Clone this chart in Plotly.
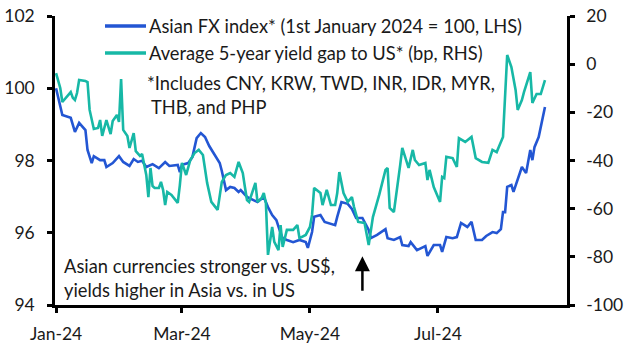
import plotly.graph_objects as go

# ---------------- data ----------------
fx_dates = ["2024-01-01","2024-01-03","2024-01-04","2024-01-08","2024-01-10","2024-01-12","2024-01-15","2024-01-16","2024-01-18","2024-01-19",
            "2024-01-22","2024-01-24","2024-01-25","2024-01-28","2024-01-30","2024-01-31","2024-02-02","2024-02-05","2024-02-07","2024-02-09",
            "2024-02-11","2024-02-13","2024-02-16","2024-02-19","2024-02-22","2024-02-24","2024-02-28","2024-02-29","2024-03-01","2024-03-04",
            "2024-03-06","2024-03-08","2024-03-10","2024-03-12","2024-03-14","2024-03-17","2024-03-19","2024-03-20","2024-03-22","2024-03-24",
            "2024-03-26","2024-03-28","2024-03-29","2024-04-01","2024-04-04","2024-04-06","2024-04-09","2024-04-11","2024-04-13","2024-04-15",
            "2024-04-17","2024-04-18","2024-04-20","2024-04-23","2024-04-26","2024-04-29","2024-04-30","2024-05-02","2024-05-03","2024-05-06",
            "2024-05-08","2024-05-10","2024-05-13","2024-05-14","2024-05-16","2024-05-19","2024-05-21","2024-05-23","2024-05-26","2024-05-29",
            "2024-05-30","2024-06-02","2024-06-04","2024-06-06","2024-06-07","2024-06-10","2024-06-13","2024-06-14","2024-06-17","2024-06-18",
            "2024-06-21","2024-06-25","2024-06-26","2024-06-29","2024-07-02","2024-07-03","2024-07-05","2024-07-08","2024-07-10","2024-07-12",
            "2024-07-15","2024-07-17","2024-07-19","2024-07-22","2024-07-24","2024-07-27","2024-07-29","2024-07-31","2024-08-01","2024-08-02",
            "2024-08-03","2024-08-05","2024-08-06","2024-08-08","2024-08-10","2024-08-12","2024-08-14","2024-08-15","2024-08-16","2024-08-18",
            "2024-08-21"]
fx_index = [100.0, 99.45, 99.26, 99.18, 98.79, 99.04, 98.84, 98.29, 97.93, 98.12,
            98.01, 98.01, 97.82, 97.93, 98.04, 98.12, 97.96, 97.85, 98.04, 97.96,
            97.99, 97.82, 97.9, 97.79, 97.96, 97.85, 97.88, 97.68, 97.88, 97.93,
            98.1, 98.62, 98.76, 98.65, 98.4, 98.1, 97.93, 97.71, 97.18, 97.27,
            97.24, 97.13, 97.18, 96.99, 96.91, 96.85, 96.99, 96.71, 96.49, 96.35,
            95.99, 95.85, 95.8, 95.74, 95.8, 95.74, 95.58, 96.02, 96.44, 96.49,
            96.3, 96.27, 96.21, 96.44, 96.85, 96.8, 96.66, 96.41, 96.41, 96.08,
            95.85, 95.94, 96.02, 96.1, 95.85, 95.8, 95.88, 95.66, 95.63, 95.74,
            95.52, 95.63, 95.36, 95.66, 95.66, 95.47, 95.88, 95.85, 95.88, 96.27,
            96.16, 96.3, 95.8, 95.8, 95.91, 96.02, 95.99, 96.1, 96.57, 96.57,
            97.27, 97.32, 97.13, 97.46, 97.82, 97.65, 98.29, 98.01, 98.37, 98.65,
            99.48]

gap_dates = ["2024-01-01","2024-01-02","2024-01-03","2024-01-04","2024-01-06","2024-01-08","2024-01-09","2024-01-10","2024-01-11","2024-01-12",
             "2024-01-15","2024-01-16","2024-01-17","2024-01-19","2024-01-21","2024-01-22","2024-01-23","2024-01-25","2024-01-27","2024-01-28",
             "2024-01-30","2024-01-31","2024-02-01","2024-02-02","2024-02-04","2024-02-05","2024-02-07","2024-02-08","2024-02-10","2024-02-11",
             "2024-02-13","2024-02-14","2024-02-15","2024-02-16","2024-02-17","2024-02-19","2024-02-20","2024-02-21","2024-02-22","2024-02-23",
             "2024-02-25","2024-02-28","2024-02-29","2024-03-01","2024-03-03","2024-03-05","2024-03-07","2024-03-09","2024-03-11","2024-03-12",
             "2024-03-13","2024-03-15","2024-03-17","2024-03-18","2024-03-20","2024-03-22","2024-03-24","2024-03-26","2024-03-28","2024-03-30",
             "2024-03-31","2024-04-01","2024-04-02","2024-04-05","2024-04-06","2024-04-08","2024-04-09","2024-04-10","2024-04-11","2024-04-13",
             "2024-04-14","2024-04-16","2024-04-17","2024-04-18","2024-04-20","2024-04-23","2024-04-25","2024-04-26","2024-04-29","2024-05-01",
             "2024-05-02","2024-05-03","2024-05-06","2024-05-07","2024-05-09","2024-05-11","2024-05-13","2024-05-14","2024-05-15","2024-05-17",
             "2024-05-19","2024-05-21","2024-05-22","2024-05-24","2024-05-27","2024-05-29","2024-05-31","2024-06-02","2024-06-03","2024-06-06",
             "2024-06-07","2024-06-08","2024-06-10","2024-06-13","2024-06-14","2024-06-17","2024-06-19","2024-06-20","2024-06-22","2024-06-25",
             "2024-06-26","2024-06-27","2024-06-29","2024-07-02","2024-07-03","2024-07-04","2024-07-05","2024-07-08","2024-07-10","2024-07-11",
             "2024-07-14","2024-07-17","2024-07-19","2024-07-22","2024-07-25","2024-07-27","2024-07-29","2024-07-30","2024-08-01","2024-08-03",
             "2024-08-05","2024-08-07","2024-08-08","2024-08-10","2024-08-11","2024-08-14","2024-08-15","2024-08-17","2024-08-19","2024-08-21"]
yield_gap = [-3.7, -6.6, -9.9, -15.7, -13.6, -11.6, -14.0, -14.9, -12.0, -6.6,
             -7.0, -7.4, -19.0, -26.9, -26.5, -23.2, -29.8, -23.2, -29.0, -23.6,
             -21.1, -24.0, -6.2, -27.3, -29.8, -34.8, -28.6, -36.1, -38.1, -37.3,
             -46.0, -55.2, -43.1, -50.6, -51.4, -51.4, -48.9, -52.2, -58.5, -53.1,
             -54.3, -57.6, -50.2, -41.0, -46.0, -39.8, -36.9, -35.6, -37.7, -42.7,
             -49.3, -57.2, -59.3, -60.5, -48.9, -46.0, -45.2, -46.8, -40.6, -45.2,
             -51.0, -56.4, -57.2, -49.3, -57.2, -55.6, -53.5, -57.6, -79.2, -67.6,
             -73.8, -77.2, -66.8, -75.9, -68.8, -68.8, -66.8, -72.2, -70.9, -67.6,
             -62.6, -51.4, -53.5, -58.5, -52.2, -58.5, -58.5, -53.5, -44.8, -53.5,
             -57.2, -55.2, -59.3, -65.5, -65.9, -75.1, -63.5, -57.6, -54.3, -43.9,
             -43.1, -59.7, -61.4, -41.9, -34.8, -43.1, -35.6, -39.8, -41.9, -41.0,
             -48.1, -43.9, -51.0, -57.2, -46.8, -47.3, -38.5, -39.0, -42.7, -30.7,
             -32.3, -30.2, -39.0, -40.6, -41.0, -35.6, -36.5, -34.4, -30.2, 3.8,
             -1.2, -10.7, -19.0, -14.9, -11.6, -3.3, -16.1, -12.4, -12.4, -6.6]

x_tick_vals = ["2024-01-01", "2024-03-01", "2024-05-01", "2024-07-01"]
x_tick_text = ["Jan-24", "Mar-24", "May-24", "Jul-24"]
left_ticks = [94, 96, 98, 100, 102]
left_tick_text = ["94", "96", "98", "100", "102"]
right_ticks = [-100, -80, -60, -40, -20, 0, 20]
right_tick_text = ["-100", "-80", "-60", "-40", "-20", "0", "20"]

series_names = ["Asian FX index* (1st January 2024 = 100, LHS)",
                "Average 5-year yield gap to US* (bp, RHS)"]
note_lines = ["*Includes CNY, KRW, TWD, INR, IDR, MYR,", "THB, and PHP"]
annot_text = "Asian currencies stronger vs. US$,<br>yields higher in Asia vs. in US"
arrow_date = "2024-05-26"

# ---------------- style ----------------
BLUE = "#2356d3"
TEAL = "#17b8a6"
FONT = "Lato"
TXT = "#1a1a1a"
TXT_SIZE = 18.3
TICK_SIZE = 17.5

fig = go.Figure()
fig.add_trace(go.Scatter(x=fx_dates, y=fx_index, mode="lines", name=series_names[0],
                         line=dict(color=BLUE, width=2.6), yaxis="y", showlegend=False,
                         hoverinfo="skip"))
fig.add_trace(go.Scatter(x=gap_dates, y=yield_gap, mode="lines", name=series_names[1],
                         line=dict(color=TEAL, width=2.6), yaxis="y2", showlegend=False,
                         hoverinfo="skip"))

axis_common = dict(showgrid=False, zeroline=False, showline=True, linecolor="black",
                   linewidth=2.5, ticks="outside", ticklen=5, tickwidth=2.5, tickcolor="black",
                   ticklabeloverflow="allow", automargin=False,
                   tickfont=dict(family=FONT, size=TICK_SIZE, color=TXT))

fig.update_layout(
    width=628, height=355,
    margin=dict(l=55, r=61, t=16, b=50),
    paper_bgcolor="white", plot_bgcolor="white",
    font=dict(family=FONT, size=TXT_SIZE, color=TXT),
    xaxis=dict(type="date", range=["2023-12-31 12:00", "2024-08-31 12:00"],
               tickmode="array", tickvals=x_tick_vals, ticktext=x_tick_text,
               ticklabelstandoff=6, **axis_common),
    yaxis=dict(range=[94, 102], tickmode="array", tickvals=left_ticks, ticktext=left_tick_text,
               ticklabelstandoff=9, **axis_common),
    yaxis2=dict(range=[-100, 20], tickmode="array", tickvals=right_ticks, ticktext=right_tick_text,
                overlaying="y", side="right", ticklabelstandoff=8, **axis_common),
)

# helper: reference-pixel position -> paper fraction of the plot area (55..567, 16..305)
def px_x(p):
    return (p - 55) / 512.0

def px_y(p):
    return (305 - p) / 289.0

for i, (col, name) in enumerate(zip([BLUE, TEAL], series_names)):
    yy = [26, 53][i]
    fig.add_shape(type="line", xref="paper", yref="paper", x0=px_x(105), x1=px_x(146),
                  y0=px_y(yy), y1=px_y(yy), line=dict(color=col, width=3.5))
    fig.add_annotation(xref="paper", yref="paper", x=px_x(147), y=px_y(yy), text=name,
                       showarrow=False, xanchor="left", yanchor="middle",
                       font=dict(family=FONT, size=TXT_SIZE, color=TXT))

fig.add_annotation(xref="paper", yref="paper", x=px_x(145), y=px_y(83), text=note_lines[0],
                   showarrow=False, xanchor="left", yanchor="middle",
                   font=dict(family=FONT, size=TXT_SIZE, color=TXT))
fig.add_annotation(xref="paper", yref="paper", x=px_x(149), y=px_y(107), text=note_lines[1],
                   showarrow=False, xanchor="left", yanchor="middle",
                   font=dict(family=FONT, size=TXT_SIZE, color=TXT))

fig.add_annotation(xref="paper", yref="paper", x=px_x(62), y=px_y(278), text=annot_text,
                   showarrow=False, xanchor="left", yanchor="middle", align="left",
                   font=dict(family=FONT, size=TXT_SIZE, color=TXT))

# arrow
fig.add_annotation(x=arrow_date, y=95.35, ax=arrow_date, ay=94.35, xref="x", yref="y",
                   axref="x", ayref="y", text="", showarrow=True, arrowhead=2,
                   arrowsize=1.2, arrowwidth=2.5, arrowcolor="black")

# remove the browser's default 8px page margin so the 628x355 figure fills the window
fig.write_html("out.html", config={"displayModeBar": False},
               post_script="document.body.style.margin='0';")
